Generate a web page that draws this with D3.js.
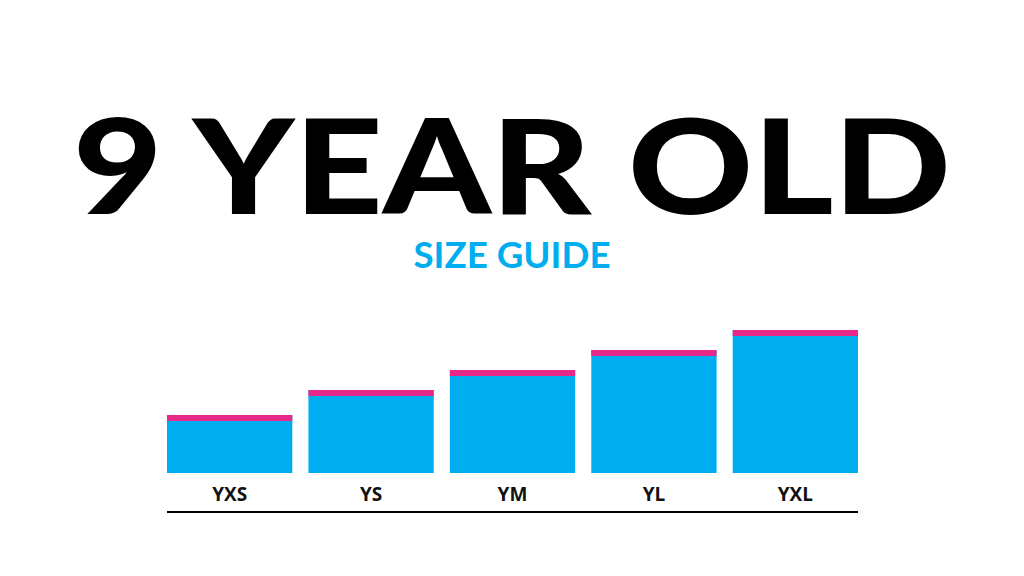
<!DOCTYPE html>
<html>
<head>
<meta charset="utf-8">
<script src="https://cdn.jsdelivr.net/npm/d3@7"></script>
<style>
  body { margin: 0; background: #fff; }
</style>
</head>
<body>
<svg id="chart" width="1024" height="576"></svg>
<script>
// size chart data
const sizes = ["YXS", "YS", "YM", "YL", "YXL"];
const barValues = [58, 83, 103, 123, 143];

const svg = d3.select("#chart");

// big heading
svg.append("text")
  .attr("x", 512).attr("y", 214)
  .attr("text-anchor", "middle")
  .attr("font-family", "Lato")
  .attr("font-weight", 900)
  .attr("font-size", 132)
  .attr("textLength", 878)
  .attr("lengthAdjust", "spacingAndGlyphs")
  .attr("fill", "#000")
  .text("9 YEAR OLD");

svg.append("text")
  .attr("x", 512).attr("y", 268)
  .attr("text-anchor", "middle")
  .attr("font-family", "Lato")
  .attr("font-weight", 700)
  .attr("font-size", 36)
  .attr("textLength", 197)
  .attr("lengthAdjust", "spacingAndGlyphs")
  .attr("fill", "#00aeef")
  .text("SIZE GUIDE");

const x = d3.scaleBand().domain(sizes).range([167, 858]).paddingInner(0.114).paddingOuter(0);
const y = d3.scaleLinear().domain([0, 143]).range([473, 330]);

const bars = svg.append("g").selectAll("g").data(sizes).join("g");

bars.append("rect")
  .attr("x", d => x(d))
  .attr("y", (d, i) => y(barValues[i]))
  .attr("width", x.bandwidth())
  .attr("height", (d, i) => y(0) - y(barValues[i]))
  .attr("fill", "#00aeef");

bars.append("rect")
  .attr("x", d => x(d))
  .attr("y", (d, i) => y(barValues[i]))
  .attr("width", x.bandwidth())
  .attr("height", 6)
  .attr("fill", "#e8298a");

bars.append("text")
  .attr("x", d => x(d) + x.bandwidth() / 2)
  .attr("y", 501)
  .attr("text-anchor", "middle")
  .attr("font-family", "Open Sans")
  .attr("font-weight", 700)
  .attr("font-size", 19)
  .attr("fill", "#111")
  .text(d => d);

svg.append("line")
  .attr("x1", x(sizes[0])).attr("x2", x(sizes[4]) + x.bandwidth())
  .attr("y1", 512).attr("y2", 512)
  .attr("stroke", "#000").attr("stroke-width", 2);
</script>
</body>
</html>
